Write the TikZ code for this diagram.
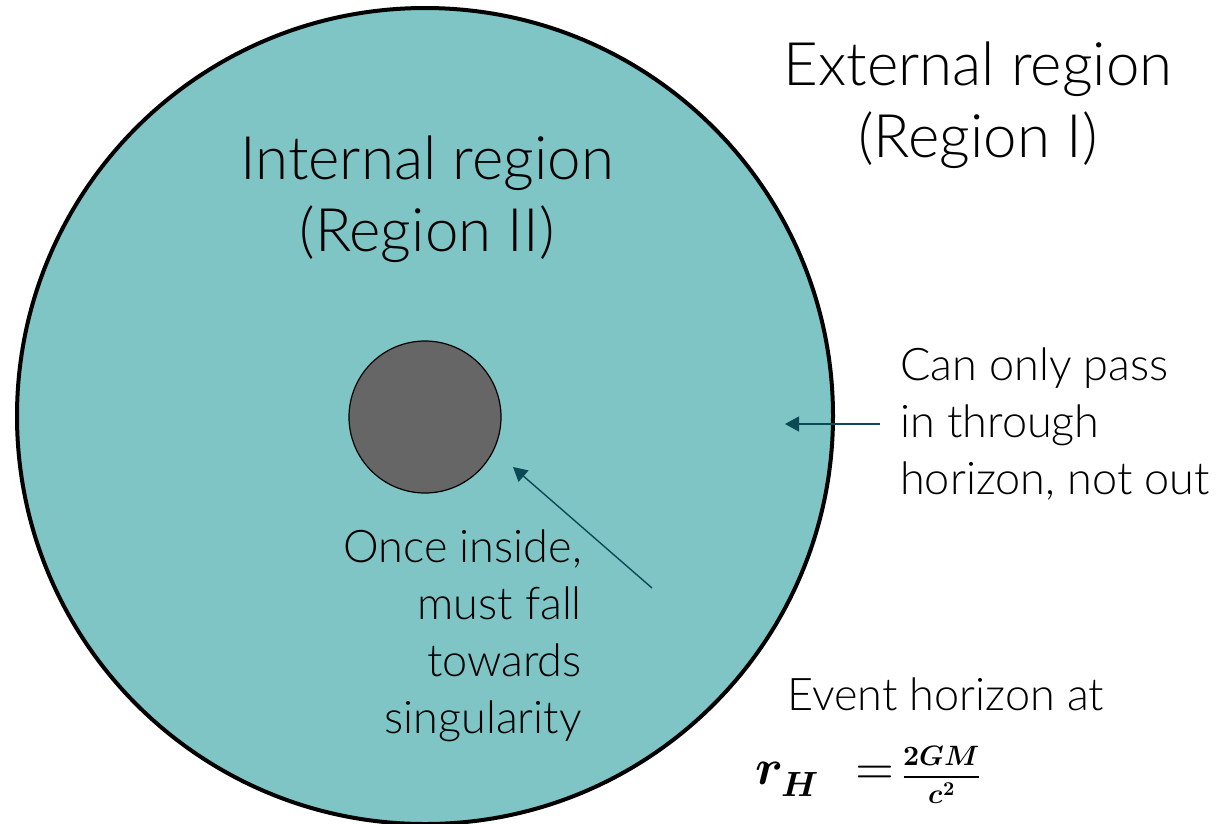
\documentclass[tikz,border=0pt]{standalone}
\usepackage{amsmath}
\usepackage{fontspec}
\usepackage{unicode-math}
\setmainfont{Lato}[UprightFont={* Light}]
\setmathfont{Latin Modern Math}
\usetikzlibrary{arrows.meta,positioning}
\definecolor{bhTeal}{HTML}{80C5C5}
\definecolor{bhCore}{HTML}{666666}
\definecolor{bhArrow}{HTML}{0B4A55}

\begin{document}
\begin{tikzpicture}[x=1pt,y=-1pt,
  bigtxt/.style={font=\fontsize{60}{72}\selectfont, align=center, inner sep=0pt},
  smalltxt/.style={font=\fontsize{45}{57}\selectfont, inner sep=0pt},
  bharr/.style={-{Triangle[length=14pt,width=15pt]}, line width=1.4pt, color=bhArrow}]
  \useasboundingbox (0,0) rectangle (1217,823);
  % horizon and singularity
  \node[circle, draw=black, line width=4pt, fill=bhTeal, minimum size=816pt] (horizon) at (425,416) {};
  \node[circle, draw=black, line width=1.2pt, fill=bhCore, minimum size=152pt] (core) at (425,417) {};
  % region labels
  \node[bigtxt] (inner) at (427,199) {Internal region\\(Region II)};
  \node[bigtxt] (outer) at (978,105) {External region\\(Region I)};
  % notes
  \node[smalltxt, align=left, anchor=west] (passnote) at (900,424) {Can only pass\\in through\\horizon, not out};
  \node[smalltxt, align=right, anchor=north east] (fallnote) at (582,530) {Once inside,\\must fall\\towards\\singularity};
  \node[smalltxt, align=left, anchor=north west] (evthor) at (787,678) {Event horizon at};
  \node[inner sep=0pt, anchor=base west, font=\fontsize{50}{60}\selectfont] (radius) at (755,784)
    {$\symbfit{r}_{\symbfit{H}}\;\,=\,$\fontsize{28}{32}\selectfont$\dfrac{\symbf{2}\symbfit{GM}}{\symbfit{c}^{\symbf{2}}}$};
  % arrows
  \coordinate (passtail) at (880,424);
  \coordinate (passhead) at (785,424);
  \coordinate (falltail) at (652,588);
  \coordinate (fallhead) at (513,467);
  \draw[bharr] (passtail) -- (passhead);
  \draw[bharr] (falltail) -- (fallhead);
\end{tikzpicture}
\end{document}
